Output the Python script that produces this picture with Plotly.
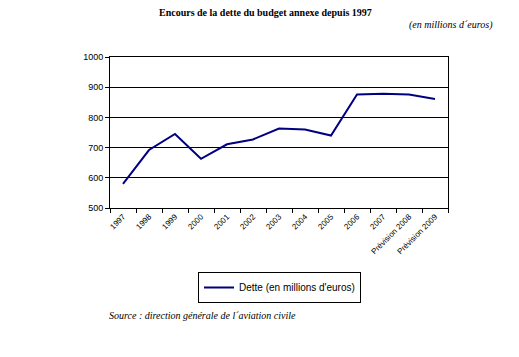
import plotly.graph_objects as go

categories = ["1997", "1998", "1999", "2000", "2001", "2002", "2003", "2004",
              "2005", "2006", "2007", "Prévision 2008", "Prévision 2009"]
dette = [580, 692, 745, 663, 711, 727, 763, 760, 740, 876, 878, 876, 861]
series_name = "Dette (en millions d'euros)"
title_text = "Encours de la dette du budget annexe depuis 1997"
unit_text = "(en millions d´euros)"
source_text = "Source : direction générale de l´aviation civile"

# page body adds an 8px offset
OFF = 8
PL, PR, PT, PB = 110, 448, 57, 208  # plot area in window pixels
PW, PH = PR - PL, PB - PT

fig = go.Figure()
fig.add_trace(go.Scatter(x=categories, y=dette, mode="lines", name=series_name,
                         line=dict(color="#000080", width=2)))

fig.update_layout(
    width=519 - OFF, height=357 - OFF,
    margin=dict(l=PL - OFF, r=519 - PR, t=PT - OFF, b=357 - PB, autoexpand=False),
    paper_bgcolor="white", plot_bgcolor="white",
    font=dict(family="Liberation Sans, Arial", size=9, color="black"),
    showlegend=True,
    legend=dict(x=(198 - PL) / PW, y=-(272 - PB) / PH, xanchor="left", yanchor="top",
                bordercolor="black", borderwidth=1, bgcolor="white",
                font=dict(size=10, family="Liberation Sans, Arial"),
                itemwidth=30, tracegroupgap=0),
    xaxis=dict(type="category", range=[-0.5, len(categories) - 0.5], automargin=False,
               tickangle=-45, ticks="outside", tickson="boundaries",
               ticklen=4, tickcolor="black", showline=True, linecolor="black",
               linewidth=1, mirror=True, showgrid=False,
               tickfont=dict(size=8)),
    yaxis=dict(range=[500, 1000], dtick=100, ticks="outside", ticklen=4, automargin=False,
               tickcolor="black", showline=True, linecolor="black", linewidth=1,
               mirror=True, showgrid=True, gridcolor="black", gridwidth=1,
               zeroline=False, tickfont=dict(size=9)),
    annotations=[
        dict(text="<b>" + title_text + "</b>", xref="paper", yref="paper",
             x=(265 - PL) / PW, y=1 + (PT - 12) / PH, xanchor="center", yanchor="middle",
             showarrow=False, font=dict(family="Liberation Serif, Times New Roman", size=10)),
        dict(text="<i>" + unit_text + "</i>", xref="paper", yref="paper",
             x=(495 - PL) / PW, y=1 + (PT - 25) / PH, xanchor="right", yanchor="middle",
             showarrow=False, font=dict(family="Liberation Serif, Times New Roman", size=10)),
        dict(text="<i>" + source_text + "</i>", xref="paper", yref="paper",
             x=(107 - PL) / PW, y=-(315 - PB) / PH, xanchor="left", yanchor="middle",
             showarrow=False, font=dict(family="Liberation Serif, Times New Roman", size=10)),
    ],
)

fig.write_html("out.html")
